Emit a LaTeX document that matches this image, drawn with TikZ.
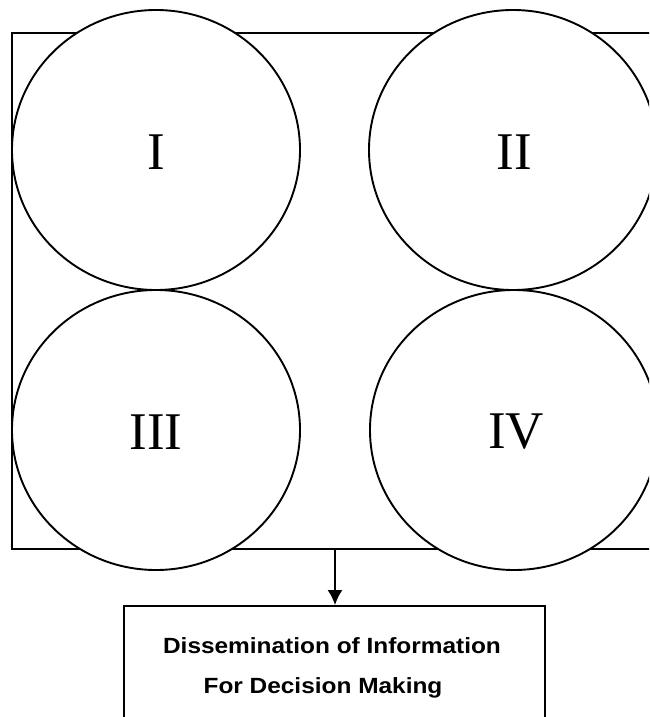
\documentclass[tikz,border=0pt]{standalone}
\usepackage{fontspec}
\setmainfont{Liberation Serif}
\newfontfamily\boxfont[FakeStretch=1.11]{Liberation Sans}
\usetikzlibrary{shapes.geometric,arrows.meta}
\begin{document}
\begin{tikzpicture}[x=1pt,y=-1pt,
  line/.style={line width=1.9pt,draw=black},
  quad/.style={line,fill=white,ellipse,minimum width=288pt,minimum height=280pt,inner sep=0pt},
  numeral/.style={font=\fontsize{53}{60}\selectfont,inner sep=0pt},
  boxtext/.style={font=\boxfont\bfseries\fontsize{22}{26}\selectfont,inner sep=0pt,anchor=base}]
\useasboundingbox (0,0) rectangle (649,717);
\clip (0,0) rectangle (649,717);
\node[line,rectangle,minimum width=648pt,minimum height=516pt,inner sep=0pt] (frame) at (336,291) {};
\node[quad] (c1) at (156,150) {};
\node[quad] (c2) at (513,150) {};
\node[quad] (c3) at (156,430) {};
\node[quad] (c4) at (514,430) {};
\node[numeral] (l1) at (156,152) {I};
\node[numeral] (l2) at (514,152) {II};
\node[numeral] (l3) at (156,432) {III};
\node[numeral] (l4) at (516,432) {IV};
\node[line,rectangle,minimum width=421pt,minimum height=130pt,inner sep=0pt] (diss) at (334.5,671) {};
\node[boxtext] (t1) at (332,653) {Dissemination of Information};
\node[boxtext] (t2) at (323,693) {For Decision Making};
\coordinate (a) at (335,549);
\draw[line width=1.9pt,-{Latex[length=15pt,width=15pt]}] (a) -- (a |- diss.north);
\end{tikzpicture}
\end{document}
